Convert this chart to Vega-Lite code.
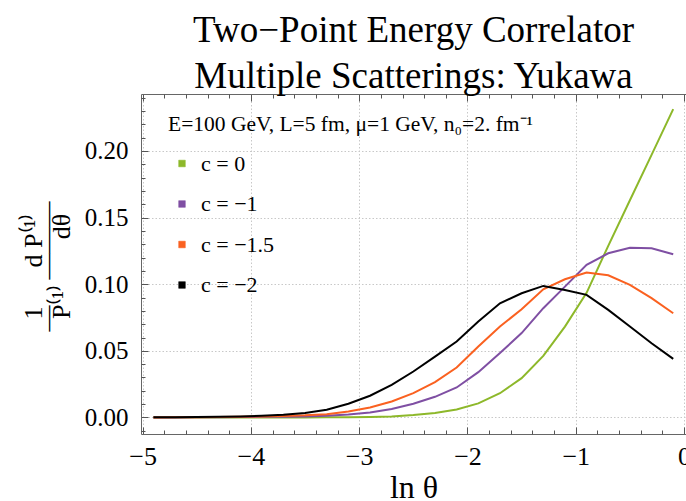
{
  "$schema": "https://vega.github.io/schema/vega-lite/v6.json",
  "width": 545,
  "height": 340,
  "autosize": "none",
  "padding": {"left": 141, "top": 94, "right": 0, "bottom": 67},
  "background": "white",
  "config": {
    "view": {"stroke": "#666666", "strokeWidth": 1},
    "font": "Liberation Serif"
  },
  "title": {
    "text": ["Two−Point Energy Correlator", "Multiple Scatterings: Yukawa"],
    "font": "Liberation Serif",
    "fontSize": 37,
    "fontWeight": "normal",
    "color": "black",
    "lineHeight": 46,
    "anchor": "middle",
    "offset": -2
  },
  "data": {
    "values": [
      {"t": -4.9, "c": "c = 0", "v": 0.0}, {"t": -4.7, "c": "c = 0", "v": 0.0}, {"t": -4.5, "c": "c = 0", "v": 0.0}, {"t": -4.3, "c": "c = 0", "v": 0.0}, {"t": -4.1, "c": "c = 0", "v": 0.00001},
      {"t": -3.9, "c": "c = 0", "v": 0.00002}, {"t": -3.7, "c": "c = 0", "v": 0.00003}, {"t": -3.5, "c": "c = 0", "v": 0.00005}, {"t": -3.3, "c": "c = 0", "v": 0.0001}, {"t": -3.1, "c": "c = 0", "v": 0.0002},
      {"t": -2.9, "c": "c = 0", "v": 0.0004}, {"t": -2.7, "c": "c = 0", "v": 0.0008}, {"t": -2.5, "c": "c = 0", "v": 0.0018}, {"t": -2.3, "c": "c = 0", "v": 0.0033}, {"t": -2.1, "c": "c = 0", "v": 0.006},
      {"t": -1.9, "c": "c = 0", "v": 0.0106}, {"t": -1.7, "c": "c = 0", "v": 0.0182}, {"t": -1.5, "c": "c = 0", "v": 0.0295}, {"t": -1.3, "c": "c = 0", "v": 0.0462}, {"t": -1.1, "c": "c = 0", "v": 0.0682},
      {"t": -0.9, "c": "c = 0", "v": 0.0935}, {"t": -0.7, "c": "c = 0", "v": 0.1288}, {"t": -0.5, "c": "c = 0", "v": 0.163}, {"t": -0.3, "c": "c = 0", "v": 0.197}, {"t": -0.1, "c": "c = 0", "v": 0.2314},

      {"t": -4.9, "c": "c = −1", "v": 0.00003}, {"t": -4.7, "c": "c = −1", "v": 0.00005}, {"t": -4.5, "c": "c = −1", "v": 0.0001}, {"t": -4.3, "c": "c = −1", "v": 0.00015}, {"t": -4.1, "c": "c = −1", "v": 0.0003},
      {"t": -3.9, "c": "c = −1", "v": 0.0005}, {"t": -3.7, "c": "c = −1", "v": 0.0006}, {"t": -3.5, "c": "c = −1", "v": 0.0008}, {"t": -3.3, "c": "c = −1", "v": 0.0013}, {"t": -3.1, "c": "c = −1", "v": 0.0023},
      {"t": -2.9, "c": "c = −1", "v": 0.0038}, {"t": -2.7, "c": "c = −1", "v": 0.0063}, {"t": -2.5, "c": "c = −1", "v": 0.0103}, {"t": -2.3, "c": "c = −1", "v": 0.0155}, {"t": -2.1, "c": "c = −1", "v": 0.0225},
      {"t": -1.9, "c": "c = −1", "v": 0.034}, {"t": -1.7, "c": "c = −1", "v": 0.0483}, {"t": -1.5, "c": "c = −1", "v": 0.0633}, {"t": -1.3, "c": "c = −1", "v": 0.082}, {"t": -1.1, "c": "c = −1", "v": 0.0982},
      {"t": -0.9, "c": "c = −1", "v": 0.1145}, {"t": -0.7, "c": "c = −1", "v": 0.1232}, {"t": -0.5, "c": "c = −1", "v": 0.1274}, {"t": -0.3, "c": "c = −1", "v": 0.127}, {"t": -0.1, "c": "c = −1", "v": 0.1225},

      {"t": -4.9, "c": "c = −1.5", "v": 0.00005}, {"t": -4.7, "c": "c = −1.5", "v": 0.0001}, {"t": -4.5, "c": "c = −1.5", "v": 0.0002}, {"t": -4.3, "c": "c = −1.5", "v": 0.0003}, {"t": -4.1, "c": "c = −1.5", "v": 0.0005},
      {"t": -3.9, "c": "c = −1.5", "v": 0.0008}, {"t": -3.7, "c": "c = −1.5", "v": 0.0011}, {"t": -3.5, "c": "c = −1.5", "v": 0.0016}, {"t": -3.3, "c": "c = −1.5", "v": 0.0025}, {"t": -3.1, "c": "c = −1.5", "v": 0.0045},
      {"t": -2.9, "c": "c = −1.5", "v": 0.0075}, {"t": -2.7, "c": "c = −1.5", "v": 0.012}, {"t": -2.5, "c": "c = −1.5", "v": 0.0183}, {"t": -2.3, "c": "c = −1.5", "v": 0.0265}, {"t": -2.1, "c": "c = −1.5", "v": 0.0375},
      {"t": -1.9, "c": "c = −1.5", "v": 0.0532}, {"t": -1.7, "c": "c = −1.5", "v": 0.0682}, {"t": -1.5, "c": "c = −1.5", "v": 0.0812}, {"t": -1.3, "c": "c = −1.5", "v": 0.0962}, {"t": -1.1, "c": "c = −1.5", "v": 0.1037},
      {"t": -0.9, "c": "c = −1.5", "v": 0.1087}, {"t": -0.7, "c": "c = −1.5", "v": 0.1067}, {"t": -0.5, "c": "c = −1.5", "v": 0.0995}, {"t": -0.3, "c": "c = −1.5", "v": 0.0895}, {"t": -0.1, "c": "c = −1.5", "v": 0.0782},

      {"t": -4.9, "c": "c = −2", "v": 0.0001}, {"t": -4.7, "c": "c = −2", "v": 0.0002}, {"t": -4.5, "c": "c = −2", "v": 0.0003}, {"t": -4.3, "c": "c = −2", "v": 0.0005}, {"t": -4.1, "c": "c = −2", "v": 0.0008},
      {"t": -3.9, "c": "c = −2", "v": 0.0013}, {"t": -3.7, "c": "c = −2", "v": 0.002}, {"t": -3.5, "c": "c = −2", "v": 0.0033}, {"t": -3.3, "c": "c = −2", "v": 0.0058}, {"t": -3.1, "c": "c = −2", "v": 0.0103},
      {"t": -2.9, "c": "c = −2", "v": 0.0163}, {"t": -2.7, "c": "c = −2", "v": 0.0245}, {"t": -2.5, "c": "c = −2", "v": 0.0345}, {"t": -2.3, "c": "c = −2", "v": 0.0457}, {"t": -2.1, "c": "c = −2", "v": 0.057},
      {"t": -1.9, "c": "c = −2", "v": 0.072}, {"t": -1.7, "c": "c = −2", "v": 0.0857}, {"t": -1.5, "c": "c = −2", "v": 0.0932}, {"t": -1.3, "c": "c = −2", "v": 0.0987}, {"t": -1.1, "c": "c = −2", "v": 0.0957},
      {"t": -0.9, "c": "c = −2", "v": 0.092}, {"t": -0.7, "c": "c = −2", "v": 0.0807}, {"t": -0.5, "c": "c = −2", "v": 0.0682}, {"t": -0.3, "c": "c = −2", "v": 0.0557}, {"t": -0.1, "c": "c = −2", "v": 0.044}
    ]
  },
  "layer": [
    {
      "mark": {"type": "line", "strokeWidth": 2},
      "encoding": {
        "x": {
          "field": "t", "type": "quantitative",
          "scale": {"domain": [-5.015, 0.018], "nice": false, "zero": false},
          "axis": {
            "values": [-5, -4, -3, -2, -1, 0],
            "ticks": false, "domain": false,
            "grid": true, "gridColor": "#c8c8c8", "gridDash": [1.5, 2], "gridWidth": 1,
            "labelFont": "Liberation Serif", "labelFontSize": 26, "labelColor": "black",
            "labelPadding": 9, "labelFlush": false,
            "title": "ln θ", "titleFont": "Liberation Serif", "titleFontSize": 32,
            "titleFontWeight": "normal", "titleColor": "black",
            "titleBaseline": "alphabetic", "titleY": 63
          }
        },
        "y": {
          "field": "v", "type": "quantitative",
          "scale": {"domain": [-0.0124, 0.2427], "nice": false, "zero": false},
          "axis": {
            "values": [0, 0.05, 0.1, 0.15, 0.2], "format": ".2f",
            "ticks": false, "domain": false,
            "grid": true, "gridColor": "#c8c8c8", "gridDash": [1.5, 2], "gridWidth": 1,
            "labelFont": "Liberation Serif", "labelFontSize": 25, "labelColor": "black",
            "labelPadding": 13, "labelFlush": false,
            "title": ["1\u00a0\u00a0\u00a0\u00a0\u00a0\u00a0d\u00a0P⁽¹⁾", "\u00a0\u00a0—\u00a0\u00a0\u00a0\u00a0———", "P⁽¹⁾\u00a0\u00a0\u00a0\u00a0\u00a0\u00a0\u00a0dθ\u00a0\u00a0\u00a0\u00a0"],
            "titleFont": "Liberation Serif", "titleFontSize": 26, "titleFontWeight": "normal",
            "titleColor": "black", "titleLineHeight": 14,
            "titleAngle": 270, "titleAlign": "center", "titleBaseline": "middle",
            "titleX": -108, "titleY": 172
          }
        },
        "color": {
          "field": "c", "type": "nominal",
          "scale": {"domain": ["c = 0", "c = −1", "c = −1.5", "c = −2"], "range": ["#8DB82A", "#7F4FA3", "#FA6120", "#000000"]},
          "legend": {
            "orient": "none", "legendX": 27, "legendY": 20,
            "title": "E=100 GeV, L=5 fm, μ=1 GeV, n₀=2. fm⁻¹",
            "titleFont": "Liberation Serif", "titleFontSize": 21.5, "titleFontWeight": "normal",
            "titleColor": "black", "titleLimit": 600, "titlePadding": 17,
            "labelFont": "Liberation Serif", "labelFontSize": 22, "labelColor": "black",
            "symbolType": "square", "symbolSize": 44, "symbolOffset": 3,
            "rowPadding": 18.5, "labelOffset": 8, "padding": 0, "offset": 0,
            "encode": {"symbols": {"update": {"fill": {"scale": "color", "field": "value"}, "fillOpacity": {"value": 1}, "stroke": {"value": "#aaaaaa"}, "strokeWidth": {"value": 0.5}}}}
          }
        }
      }
    },
    {
      "mark": {"type": "line", "strokeOpacity": 0},
      "encoding": {
        "x": {"field": "t", "type": "quantitative", "axis": {"orient": "bottom", "values": [-5, -4, -3, -2, -1, 0], "labels": false, "domain": false, "grid": false, "title": null, "tickSize": -7, "tickColor": "#555555", "tickWidth": 1}},
        "y": {"field": "v", "type": "quantitative", "axis": {"orient": "left", "values": [0, 0.05, 0.1, 0.15, 0.2], "labels": false, "domain": false, "grid": false, "title": null, "tickSize": -7, "tickColor": "#555555", "tickWidth": 1}}
      }
    },
    {
      "mark": {"type": "line", "strokeOpacity": 0},
      "encoding": {
        "x": {"field": "t", "type": "quantitative", "axis": {"orient": "bottom", "values": [-5, -4.8, -4.6, -4.4, -4.2, -4, -3.8, -3.6, -3.4, -3.2, -3, -2.8, -2.6, -2.4, -2.2, -2, -1.8, -1.6, -1.4, -1.2, -1, -0.8, -0.6, -0.4, -0.2, 0], "labels": false, "domain": false, "grid": false, "title": null, "tickSize": -4, "tickColor": "#555555", "tickWidth": 1}},
        "y": {"field": "v", "type": "quantitative", "axis": {"orient": "left", "values": [-0.01, 0, 0.01, 0.02, 0.03, 0.04, 0.05, 0.06, 0.07, 0.08, 0.09, 0.1, 0.11, 0.12, 0.13, 0.14, 0.15, 0.16, 0.17, 0.18, 0.19, 0.2, 0.21, 0.22, 0.23, 0.24], "labels": false, "domain": false, "grid": false, "title": null, "tickSize": -4, "tickColor": "#555555", "tickWidth": 1}}
      }
    },
    {
      "mark": {"type": "line", "strokeOpacity": 0},
      "encoding": {
        "x": {"field": "t", "type": "quantitative", "axis": {"orient": "top", "values": [-5, -4, -3, -2, -1, 0], "labels": false, "domain": false, "grid": false, "title": null, "tickSize": -7, "tickColor": "#555555", "tickWidth": 1}},
        "y": {"field": "v", "type": "quantitative", "axis": null}
      }
    },
    {
      "mark": {"type": "line", "strokeOpacity": 0},
      "encoding": {
        "x": {"field": "t", "type": "quantitative", "axis": {"orient": "top", "values": [-5, -4.8, -4.6, -4.4, -4.2, -4, -3.8, -3.6, -3.4, -3.2, -3, -2.8, -2.6, -2.4, -2.2, -2, -1.8, -1.6, -1.4, -1.2, -1, -0.8, -0.6, -0.4, -0.2, 0], "labels": false, "domain": false, "grid": false, "title": null, "tickSize": -4, "tickColor": "#555555", "tickWidth": 1}},
        "y": {"field": "v", "type": "quantitative", "axis": null}
      }
    }
  ],
  "resolve": {"axis": {"x": "independent", "y": "independent"}}
}
